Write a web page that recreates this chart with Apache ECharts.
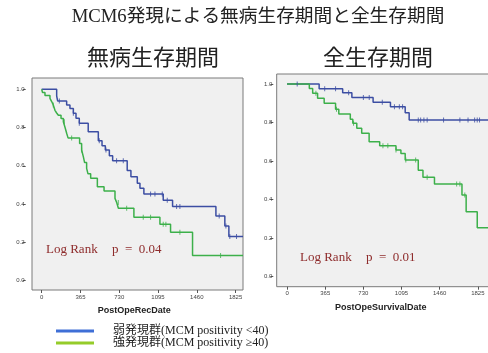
<!DOCTYPE html>
<html>
<head>
<meta charset="utf-8">
<script src="https://cdn.jsdelivr.net/npm/echarts@6/dist/echarts.min.js"></script>
<style>html,body{margin:0;padding:0;background:#fff}#c{width:488px;height:353px}</style>
</head>
<body>
<div id="c"></div>
<script>
// ---- data ----
const mainTitle = 'MCM6発現による無病生存期間と全生存期間';
const panelTitles = ['無病生存期間', '全生存期間'];
const xNames = ['PostOpeRecDate', 'PostOpeSurvivalDate'];
const seriesNames = ['弱発現群(MCM positivity <40)', '強発現群(MCM positivity ≥40)'];
const xTicks = [0, 365, 730, 1095, 1460, 1825];
const yTicks = [0, 0.2, 0.4, 0.6, 0.8, 1.0];
const pValues = ['0.04', '0.01'];

// Disease-free survival (left)
const dfsWeak = [[0,1],[141,0.965],[150,0.939],[235,0.918],[266,0.9],[298,0.875],[323,0.849],[354,0.823],[438,0.778],[533,0.731],[568,0.705],[599,0.683],[637,0.653],[668,0.627],[805,0.575],[840,0.543],[900,0.509],[925,0.483],[962,0.453],[1144,0.42],[1232,0.387],[1640,0.338],[1724,0.286],[1762,0.23],[1895,0.23]];
const dfsStrong = [[0,1],[8,0.983],[31,0.968],[78,0.953],[94,0.936],[109,0.918],[125,0.89],[141,0.876],[157,0.864],[182,0.847],[204,0.83],[220,0.80],[235,0.77],[248,0.746],[357,0.717],[376,0.683],[392,0.648],[404,0.617],[423,0.587],[436,0.558],[461,0.535],[524,0.491],[587,0.469],[690,0.43],[706,0.408],[722,0.378],[868,0.331],[1113,0.295],[1213,0.253],[1420,0.131],[1895,0.131]];
const dfsWeakCensor = [166,298,354,542,605,705,768,1025,1066,1135,1182,1270,1301,1671,1734,1771,1834];
const dfsStrongCensor = [109,213,282,376,721,800,956,1025,1144,1169,1301,1684];

// Overall survival (right)
const osWeak = [[0,1],[307,0.975],[532,0.955],[620,0.93],[823,0.905],[989,0.882],[1130,0.851],[1168,0.813],[1922,0.813]];
const osStrong = [[0,1],[213,0.977],[245,0.952],[292,0.926],[355,0.90],[464,0.869],[495,0.845],[605,0.817],[629,0.796],[667,0.77],[714,0.744],[785,0.70],[886,0.68],[1042,0.657],[1089,0.64],[1130,0.605],[1255,0.553],[1300,0.516],[1410,0.481],[1673,0.424],[1713,0.337],[1819,0.254],[1922,0.254]];
const osWeakCensor = [97,360,464,589,730,786,911,1027,1074,1105,1255,1278,1309,1340,1497,1653,1731,1794,1819,1841];
const osStrongCensor = [276,473,636,917,964,1042,1136,1230,1340,1622,1653,1700];

// ---- helpers ----
function survAt(curve, t) {
  let v = curve[0][1];
  for (const p of curve) { if (p[0] <= t) v = p[1]; else break; }
  return v;
}
function censorPts(curve, days) { return days.map(d => [d, survAt(curve, d)]); }

const lineBlue = '#3c4ea3', lineGreen = '#3cb04a';
const legBlue = '#3f6fd6', legGreen = '#95cc2a';
const serifJP = "'Liberation Serif','Noto Sans CJK JP'";
const redText = '#8e2b2b';

function xAxis(i, min, max) {
  return {
    gridIndex: i, type: 'value', min: min, max: max,
    name: xNames[i], nameLocation: 'middle', nameGap: 16,
    nameTextStyle: {fontFamily: 'Liberation Sans', fontWeight: 'bold', fontSize: 9, color: '#222'},
    axisLine: {show: false, onZero: false},
    axisTick: {show: true, customValues: xTicks, length: 3, lineStyle: {color: '#555'}},
    axisLabel: {customValues: xTicks, fontSize: 6, color: '#444', margin: 4, fontFamily: 'Liberation Sans',
      formatter: v => String(v)},
    splitLine: {show: false}
  };
}
function yAxis(i, min, max) {
  return {
    gridIndex: i, type: 'value', min: min, max: max,
    axisLine: {show: false, onZero: false},
    axisTick: {show: true, customValues: yTicks, length: 3, lineStyle: {color: '#555'}},
    axisLabel: {customValues: yTicks, fontSize: 6, color: '#444', margin: 1, fontFamily: 'Liberation Sans',
      formatter: v => v.toFixed(1)},
    splitLine: {show: false}
  };
}
function kmLine(name, data, color, xi) {
  return {type: 'line', name: name, xAxisIndex: xi, yAxisIndex: xi, data: data, step: 'end',
    showSymbol: false, symbol: 'none', lineStyle: {color: color, width: 1.5}, itemStyle: {color: color},
    silent: true, animation: false, z: 3};
}
function censor(data, color, xi) {
  return {type: 'scatter', name: 'censor', xAxisIndex: xi, yAxisIndex: xi, data: data,
    symbol: 'rect', symbolSize: [1, 5], itemStyle: {color: color}, silent: true, animation: false, z: 4};
}
function plotBox(x, y, w, h) {
  return {type: 'rect', z: -10, silent: true, shape: {x: x, y: y, width: w, height: h},
    style: {fill: '#f0f0f0', stroke: '#7a7a7a', lineWidth: 1}};
}

const chart = echarts.init(document.getElementById('c'), null, {renderer: 'canvas'});
chart.setOption({
  backgroundColor: '#fff',
  animation: false,
  title: [
    {text: mainTitle, left: 258, top: 8, textAlign: 'center', padding: 0,
      textStyle: {fontFamily: serifJP, fontSize: 18.7, fontWeight: 'normal', color: '#222'}},
    {text: panelTitles[0], left: 153, top: 46, textAlign: 'center', padding: 0,
      textStyle: {fontFamily: "'Noto Sans CJK JP'", fontSize: 22, fontWeight: 'normal', color: '#222'}},
    {text: panelTitles[1], left: 378, top: 46, textAlign: 'center', padding: 0,
      textStyle: {fontFamily: "'Noto Sans CJK JP'", fontSize: 22, fontWeight: 'normal', color: '#222'}}
  ],
  grid: [
    {left: 25.7, top: 78, width: 217.3, height: 212, show: false},
    {left: 273.3, top: 74, width: 218.7, height: 212.7, show: false}
  ],
  xAxis: [xAxis(0, -150.5, 1895), xAxis(1, -131.5, 1922)],
  yAxis: [yAxis(0, -0.049, 1.059), yAxis(1, -0.052, 1.052)],
  legend: {
    orient: 'vertical', left: 56, top: 325, itemGap: 0, itemWidth: 38, itemHeight: 3, icon: 'rect',
    padding: 0, selectedMode: false,
    textStyle: {fontFamily: serifJP, fontSize: 12, color: '#222', lineHeight: 12, padding: [0, 0, 0, 14]},
    data: [
      {name: seriesNames[0], itemStyle: {color: legBlue}},
      {name: seriesNames[1], itemStyle: {color: legGreen}}
    ]
  },
  graphic: [
    plotBox(32, 78, 211, 212),
    plotBox(276.7, 74, 220, 212.7),
    {type: 'text', left: 46, top: 243, style: {text: 'Log Rank', font: "13px 'Liberation Serif'", fill: redText}},
    {type: 'text', left: 112, top: 243, style: {text: 'p  =  ' + pValues[0], font: "13px 'Liberation Serif'", fill: redText}},
    {type: 'text', left: 300, top: 251, style: {text: 'Log Rank', font: "13px 'Liberation Serif'", fill: redText}},
    {type: 'text', left: 366, top: 251, style: {text: 'p  =  ' + pValues[1], font: "13px 'Liberation Serif'", fill: redText}}
  ],
  series: [
    kmLine(seriesNames[0], dfsWeak, lineBlue, 0),
    kmLine(seriesNames[1], dfsStrong, lineGreen, 0),
    kmLine(seriesNames[0], osWeak, lineBlue, 1),
    kmLine(seriesNames[1], osStrong, lineGreen, 1),
    censor(censorPts(dfsWeak, dfsWeakCensor), lineBlue, 0),
    censor(censorPts(dfsStrong, dfsStrongCensor), lineGreen, 0),
    censor(censorPts(osWeak, osWeakCensor), lineBlue, 1),
    censor(censorPts(osStrong, osStrongCensor), lineGreen, 1)
  ]
});
</script>
</body>
</html>
